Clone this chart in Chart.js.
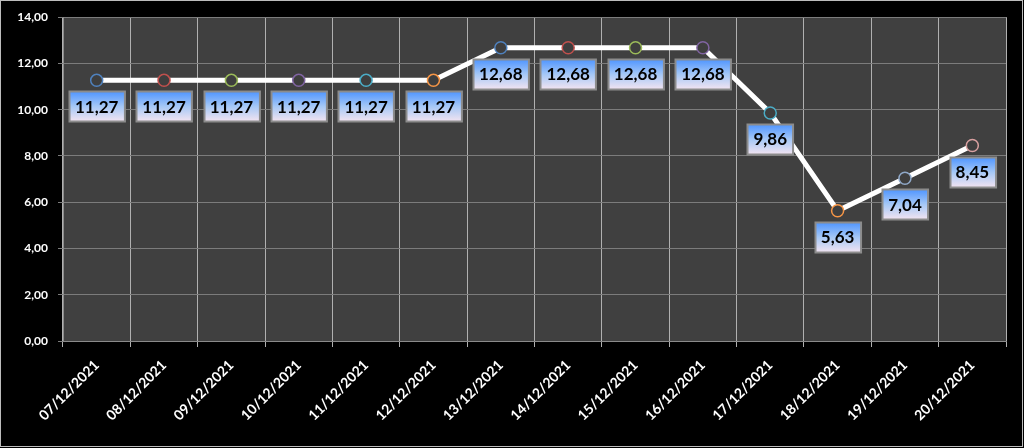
<!DOCTYPE html>
<html>
<head>
<meta charset="utf-8">
<script src="https://cdn.jsdelivr.net/npm/chart.js@4/dist/chart.umd.min.js"></script>
<style>
    html, body { margin: 0; padding: 0; background: #000; }
    #wrap { width: 1024px; height: 448px; }
</style>
</head>
<body>
<div id="wrap"><canvas id="chart" width="1024" height="448"></canvas></div>
<script>
// Datos del gráfico
const fechas = ['07/12/2021', '08/12/2021', '09/12/2021', '10/12/2021', '11/12/2021', '12/12/2021', '13/12/2021',
    '14/12/2021', '15/12/2021', '16/12/2021', '17/12/2021', '18/12/2021', '19/12/2021', '20/12/2021'];
const valores = [11.27, 11.27, 11.27, 11.27, 11.27, 11.27, 12.68, 12.68, 12.68, 12.68, 9.86, 5.63, 7.04, 8.45];
const coloresPuntos = ['#4F81BD', '#C0504D', '#9BBB59', '#8064A2', '#4BACC6', '#F79646', '#4F81BD',
    '#C0504D', '#9BBB59', '#8064A2', '#4BACC6', '#F79646', '#8FA8C8', '#D9A0A0'];

const fmt = v => v.toFixed(2).replace('.', ',');

// Fondo negro y área gris
const fondo = {
    id: 'fondo',
    beforeDraw(chart) {
        const ctx = chart.ctx;
        const a = chart.chartArea;
        ctx.save();
        ctx.fillStyle = '#000';
        ctx.fillRect(0, 0, chart.width, chart.height);
        ctx.fillStyle = '#404040';
        ctx.fillRect(a.left, a.top, a.right - a.left, a.bottom - a.top);
        ctx.restore();
    },
    afterDraw(chart) {
        const ctx = chart.ctx;
        ctx.save();
        ctx.strokeStyle = '#bdbdbd';
        ctx.lineWidth = 1;
        ctx.strokeRect(0.5, 0.5, 1022, 446);
        ctx.restore();
    }
};

// Etiquetas con caja degradada
const etiquetas = {
    id: 'etiquetas',
    afterDatasetsDraw(chart) {
        const ctx = chart.ctx;
        const meta = chart.getDatasetMeta(0);
        ctx.save();
        ctx.font = 'bold 17px Lato';
        ctx.textAlign = 'center';
        ctx.textBaseline = 'middle';
        meta.data.forEach((pt, i) => {
            const txt = fmt(valores[i]);
            const w = ctx.measureText(txt).width + 12;
            const h = 30;
            const cx = pt.x;
            const cy = pt.y + 26;
            const x0 = Math.round(cx - w / 2) + 0.5;
            const y0 = Math.round(cy - h / 2) + 0.5;
            const g = ctx.createLinearGradient(0, y0, 0, y0 + h);
            g.addColorStop(0, '#4f95ff');
            g.addColorStop(0.5, '#a6c8f6');
            g.addColorStop(1, '#f3e4f1');
            ctx.fillStyle = g;
            ctx.fillRect(x0, y0, w, h);
            ctx.strokeStyle = '#8c8c8c';
            ctx.lineWidth = 2;
            ctx.strokeRect(x0, y0, w, h);
            ctx.fillStyle = '#000';
            ctx.fillText(txt, cx, cy + 1);
        });
        ctx.restore();
    }
};

new Chart(document.getElementById('chart'), {
    type: 'line',
    data: {
        labels: fechas,
        datasets: [{
            data: valores,
            borderColor: '#ffffff',
            borderWidth: 5,
            tension: 0,
            pointRadius: 6,
            pointHoverRadius: 6,
            pointBackgroundColor: '#3e3e3e',
            pointBorderColor: coloresPuntos,
            pointBorderWidth: 1.5
        }]
    },
    options: {
        responsive: false,
        animation: false,
        devicePixelRatio: 1,
        layout: { padding: { top: 17, right: 18, left: 0, bottom: 0 } },
        plugins: {
            legend: { display: false },
            tooltip: { enabled: false }
        },
        scales: {
            x: {
                offset: true,
                grid: { offset: true, color: '#b0b0b0', tickLength: 6, drawTicks: true },
                border: { color: '#8a8a8a' },
                ticks: {
                    color: '#ffffff',
                    font: { family: 'Lato', size: 14, weight: 'bold' },
                    maxRotation: 45,
                    minRotation: 45,
                    autoSkip: false,
                    padding: 10
                },
                afterFit(scale) { scale.height = 107; }
            },
            y: {
                min: 0,
                max: 14,
                grid: { color: '#7c7c7c', tickLength: 5 },
                border: { color: '#8a8a8a' },
                ticks: {
                    stepSize: 2,
                    color: '#ffffff',
                    padding: 10,
                    font: { family: 'Lato', size: 12, weight: 'bold' },
                    callback: v => fmt(v)
                },
                afterFit(scale) { scale.width = 63; }
            }
        }
    },
    plugins: [fondo, etiquetas]
});
</script>
</body>
</html>
